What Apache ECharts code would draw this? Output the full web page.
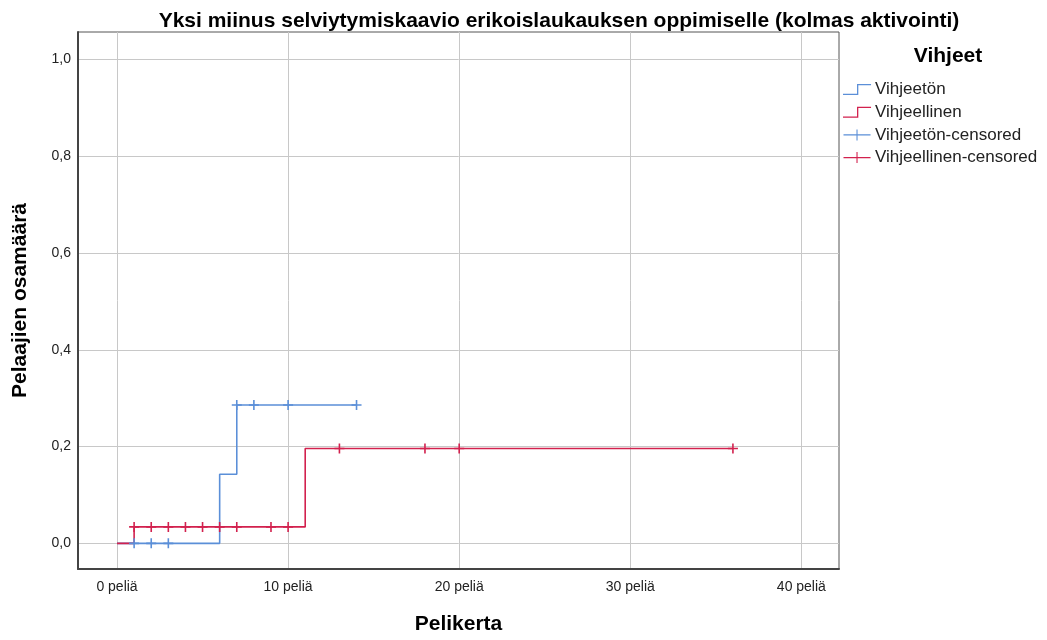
<!DOCTYPE html>
<html>
<head>
<meta charset="utf-8">
<script src="https://cdn.jsdelivr.net/npm/echarts@6/dist/echarts.min.js"></script>
<style>html,body{margin:0;padding:0;background:#fff;overflow:hidden;}#c{width:1047px;height:640px;}</style>
</head>
<body>
<div id="c"></div>
<script>
// Step curve (1 - survival) for each group
const blueTimes = [0, 6, 7, 14];
const blueValues = [0, 0.143, 0.286, 0.286];
const redTimes = [0, 1, 11, 36];
const redValues = [0, 0.034, 0.196, 0.196];
// Censored observations
const blueCensTimes = [1, 2, 3, 7, 8, 10, 14];
const blueCensValues = [0, 0, 0, 0.286, 0.286, 0.286, 0.286];
const redCensTimes = [1, 2, 3, 4, 5, 6, 7, 9, 10, 13, 18, 20, 36];
const redCensValues = [0.034, 0.034, 0.034, 0.034, 0.034, 0.034, 0.034, 0.034, 0.034, 0.196, 0.196, 0.196, 0.196];
// Tick labels
const xTicks = [0, 10, 20, 30, 40];
const yTicks = [0, 0.2, 0.4, 0.6, 0.8, 1.0];

const seriesNames = ['Vihjeetön', 'Vihjeellinen', 'Vihjeetön-censored', 'Vihjeellinen-censored'];
const BLUE = '#5b8fd8';
const RED = '#d2214e';
const FONT = 'Liberation Sans, Arial';
const zip = (a, b) => a.map((v, i) => [v, b[i]]);

const crossPath = 'path://M-1,-0.16 H1 V0.16 H-1 Z M-0.16,-1 H0.16 V1 H-0.16 Z';
const stepIcon = 'path://M0,9 H13 V0 H26 V1.2 H14.2 V10.2 H0 Z';
const crossIcon = 'path://M0,5.5 H30 V6.7 H0 Z M14.4,0 H15.6 V12.2 H14.4 Z';

const chart = echarts.init(document.getElementById('c'), null, {renderer: 'canvas'});
chart.setOption({
  backgroundColor: '#fff',
  animation: false,
  title: [{
    text: 'Yksi miinus selviytymiskaavio erikoislaukauksen oppimiselle (kolmas aktivointi)',
    left: 554, top: 6, textAlign: 'center',
    textStyle: {fontFamily: FONT, fontSize: 21, fontWeight: 'bold', color: '#000'}
  }, {
    text: 'Vihjeet',
    left: 943, top: 41, textAlign: 'center',
    textStyle: {fontFamily: FONT, fontSize: 21, fontWeight: 'bold', color: '#000'}
  }],
  legend: {
    orient: 'vertical', left: 838, top: 76,
    itemWidth: 36, itemHeight: 11, itemGap: 5.7,
    textStyle: {fontFamily: FONT, fontSize: 17, lineHeight: 17, color: '#222', padding: [0,0,0,-5]},
    data: [
      {name: seriesNames[0], icon: stepIcon},
      {name: seriesNames[1], icon: stepIcon},
      {name: seriesNames[2], icon: crossIcon},
      {name: seriesNames[3], icon: crossIcon}
    ]
  },
  grid: {left: 78, top: 32, right: 208, bottom: 67, show: true, borderColor: '#555', borderWidth: 1, containLabel: false},
  xAxis: {
    type: 'value', min: -2.28, max: 42.2,
    name: 'Pelikerta', nameLocation: 'middle', nameGap: 45,
    nameTextStyle: {fontFamily: FONT, fontSize: 21, fontWeight: 'bold', color: '#000'},
    axisLine: {show: true, onZero: false, lineStyle: {color: '#444', width: 2}},
    axisTick: {show: false, customValues: xTicks},
    axisLabel: {customValues: xTicks, margin: 11, fontFamily: FONT, fontSize: 14, color: '#222',
      formatter: v => v + ' peliä'},
    splitLine: {show: true, lineStyle: {color: '#c8c8c8', width: 1}}
  },
  yAxis: {
    type: 'value', min: -0.053, max: 1.057,
    name: 'Pelaajien osamäärä', nameLocation: 'middle', nameGap: 47,
    nameTextStyle: {fontFamily: FONT, fontSize: 21, fontWeight: 'bold', color: '#000'},
    axisLine: {show: true, onZero: false, lineStyle: {color: '#444', width: 2}},
    axisTick: {show: false, customValues: yTicks},
    axisLabel: {customValues: yTicks, margin: 7, fontFamily: FONT, fontSize: 14, color: '#222',
      formatter: v => v.toFixed(1).replace('.', ',')},
    splitLine: {show: true, lineStyle: {color: '#c8c8c8', width: 1}}
  },
  series: [
    {name: seriesNames[0], type: 'line', step: 'end', data: zip(blueTimes, blueValues), symbol: 'none',
      lineStyle: {color: BLUE, width: 1.6}, itemStyle: {color: BLUE}, z: 3},
    {name: seriesNames[1], type: 'line', step: 'end', data: zip(redTimes, redValues), symbol: 'none',
      lineStyle: {color: RED, width: 1.6}, itemStyle: {color: RED}, z: 3},
    {name: seriesNames[2], type: 'scatter', data: zip(blueCensTimes, blueCensValues), symbol: crossPath, symbolSize: 10,
      itemStyle: {color: BLUE, opacity: 1}, z: 4},
    {name: seriesNames[3], type: 'scatter', data: zip(redCensTimes, redCensValues), symbol: crossPath, symbolSize: 10,
      itemStyle: {color: RED, opacity: 1}, z: 4}
  ]
});
</script>
</body>
</html>
